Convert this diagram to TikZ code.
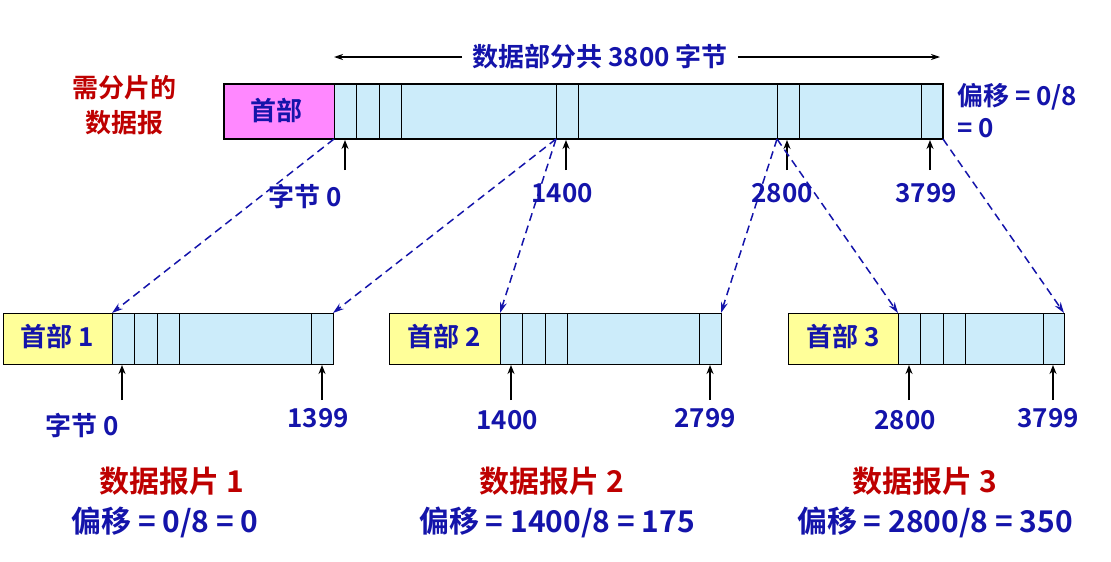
\documentclass[tikz,border=0pt]{standalone}
\usepackage{fontspec}
\newfontfamily\cjk{Noto Sans CJK SC Bold}
\usetikzlibrary{arrows.meta}
\definecolor{tblue}{RGB}{20,20,170}
\definecolor{tred}{RGB}{190,0,0}
\definecolor{lblue}{RGB}{204,236,250}
\definecolor{lpink}{RGB}{255,136,255}
\definecolor{lyel}{RGB}{255,255,153}
\tikzset{
 bt/.style={font=\cjk\fontsize{26}{28}\selectfont,text=tblue,inner sep=0pt},
 rt/.style={font=\cjk\fontsize{30}{32}\selectfont,text=tred,inner sep=0pt},
 dat/.style={draw=black,fill=lblue,line width=0.6pt},
 up/.style={-{Stealth[length=9pt,width=7pt]},line width=1.6pt},
 dsh/.style={dash pattern=on 8pt off 5pt,tblue,line width=1.5pt,-{Stealth[length=11pt,width=7pt]}},
}
\begin{document}
\begin{tikzpicture}[x=1pt,y=-1pt]
\useasboundingbox (0,0) rectangle (1111,562);
% top datagram
\fill[lpink] (224,84) rectangle (334,139);
\fill[lblue] (334,84) rectangle (943,139);
\foreach \x in {334,356,379,401,556,578,777,799,921} \draw[line width=0.8pt] (\x,84) -- (\x,139);
\draw[line width=2.2pt] (224,84) rectangle (943,139);
\node[bt] (h0) at (276,111) {首部};
\coordinate (t0) at (334,139); \coordinate (t1) at (556,139);
\coordinate (t2) at (777,139); \coordinate (t3) at (943,139);
\node[bt] (top) at (600,57) {数据部分共 3800 字节};
\coordinate (la) at (334,57); \coordinate (ra) at (940,57);
\draw[line width=1.2pt,-{Stealth[length=9pt,width=6pt]}] (top.west)++(-10,0) -- (la);
\draw[line width=1.2pt,-{Stealth[length=9pt,width=6pt]}] (top.east)++(10,0) -- (ra);
\node[rt,font=\cjk\fontsize{26}{28}\selectfont] (n1) at (124,88) {需分片的};
\node[rt,font=\cjk\fontsize{26}{28}\selectfont] (n2) at (124,123) {数据报};
\node[bt,anchor=west] (o1) at (957,97) {偏移 = 0/8};
\node[bt,anchor=west] (o2) at (957,128) {= 0};
\foreach \x/\t/\lx/\ly/\nm in {345/字节 0/305/197/a,566/1400/562/193/b,787/2800/782/193/c,930/3799/926/193/d}{
 \node[bt] (L\nm) at (\lx,\ly) {\t};
 \coordinate (A\nm) at (\x,140);
 \draw[up] (\x,170) -- (A\nm);
}
% fragments
\foreach \hx/\bx/\ex/\la/\lb/\lc/\ld/\k in {3/112/333/134/157/179/311/1,389/500/721/522/545/567/699/2,788/898/1064/920/943/965/1043/3}{
 \fill[lyel] (\hx,313) rectangle (\bx,364);
 \fill[lblue] (\bx,313) rectangle (\ex,364);
 \foreach \x in {\la,\lb,\lc,\ld} \draw[line width=0.8pt] (\x,313) -- (\x,364);
 \draw[line width=0.8pt] (\hx,313) rectangle (\ex,364);
 \draw[line width=0.8pt] (\bx,313) -- (\bx,364);
 \node[bt] (H\k) at ({(\hx+\bx)/2},337) {首部 \k};
 \coordinate (S\k) at (\bx,313); \coordinate (E\k) at (\ex,313);
}
\foreach \x/\t/\lx/\ly/\nm in {122/字节 0/82/425/p,322/1399/318/418/q,511/1400/507/420/r,710/2799/705/418/s,909/2800/905/420/t,1053/3799/1048/418/u}{
 \node[bt] (M\nm) at (\lx,\ly) {\t};
 \coordinate (B\nm) at (\x,365);
 \draw[up] (\x,400) -- (B\nm);
}
\draw[dsh] (t0) -- (S1);
\draw[dsh] (t1) -- (E1);
\draw[dsh] (t1) -- (S2);
\draw[dsh] (t2) -- (E2);
\draw[dsh] (t2) -- (S3);
\draw[dsh] (t3) -- (E3);
\node[rt] (f1) at (172,481) {数据报片 1};
\node[bt,font=\cjk\fontsize{30}{32}\selectfont] (g1) at (165,522) {偏移 = 0/8 = 0};
\node[rt] (f2) at (552,481) {数据报片 2};
\node[bt,font=\cjk\fontsize{30}{32}\selectfont] (g2) at (557,522) {偏移 = 1400/8 = 175};
\node[rt] (f3) at (925,481) {数据报片 3};
\node[bt,font=\cjk\fontsize{30}{32}\selectfont] (g3) at (935,522) {偏移 = 2800/8 = 350};
\end{tikzpicture}
\end{document}
